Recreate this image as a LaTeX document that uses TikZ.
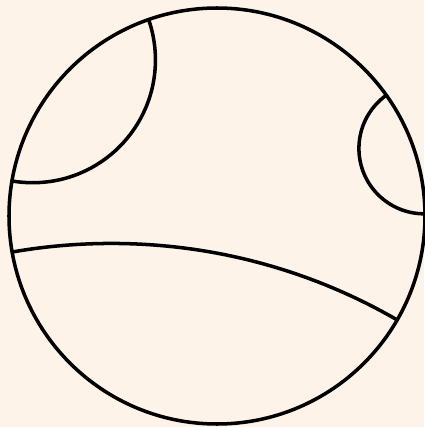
\documentclass[tikz,border=0pt]{standalone}
\usepackage{tikz}
\usepackage{xcolor}
\definecolor{paper}{RGB}{253,243,232}
\tikzset{geo/.style={line width=1pt,black}}

\begin{document}
\begin{tikzpicture}
    \def\R{2.08}
    \fill[paper] (-2.17,-2.11) rectangle (2.07,2.16);
    \useasboundingbox (-2.17,-2.11) rectangle (2.07,2.16);
    \begin{scope}
      \clip (0,0) circle (\R);
      \foreach \ga/\gb in {109.2/170.3, 0.6/35.5, 190/330}{
        \pgfmathsetmacro\gm{(\ga+\gb)/2}
        \pgfmathsetmacro\gh{abs(\gb-\ga)/2}
        \pgfmathsetmacro\gd{\R/cos(\gh)}
        \pgfmathsetmacro\gr{\R*tan(\gh)}
        \draw[geo] (\gm:\gd) circle (\gr);
      }
    \end{scope}
    \draw[geo] (0,0) circle (\R);
  \end{tikzpicture}
\end{document}
